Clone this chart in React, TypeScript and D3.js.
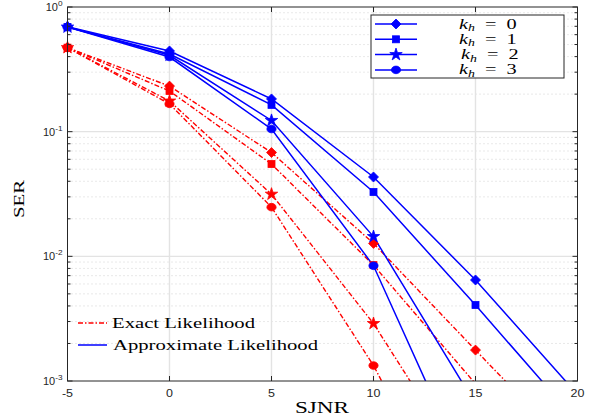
import React from 'react';
import * as d3 from 'd3';

const snr = [-5, 0, 5, 10, 15, 20];
const xTicks = [-5, 0, 5, 10, 15, 20];
const yTickExps = [-3, -2, -1, 0];

// approximate likelihood (blue, solid)
const approxK0 = [0.695, 0.444, 0.183, 0.0433, 0.00646, 0.00078];
const approxK1 = [0.69, 0.42, 0.164, 0.0328, 0.00407, 0.00047];
const approxK2 = [0.69, 0.41, 0.123, 0.0144, 0.00065];
const approxK3 = [0.69, 0.397, 0.105, 0.0084, 0.00013];

// exact likelihood (red, dash-dot)
const exactK0 = [0.472, 0.232, 0.068, 0.0127, 0.00177, 0.00025];
const exactK1 = [0.472, 0.212, 0.055, 0.0085, 0.00095];
const exactK2 = [0.472, 0.176, 0.0315, 0.00289, 0.00015];
const exactK3 = [0.472, 0.167, 0.0248, 0.00133, 0.000038];

const khLabels = ['0', '1', '2', '3'];

const BLUE = '#0000ff';
const RED = '#ff0000';

const W = 595, H = 419;
const left = 67.5, right = 577.5, top = 7, bottom = 381;

const x = d3.scaleLinear().domain([-5, 20]).range([left, right]);
const y = d3.scaleLog().domain([1e-3, 1]).range([bottom, top]);

const line = d3.line<number>()
  .x((d, i) => x(snr[i]))
  .y(d => y(d));

const minors: number[] = [];
for (let e = -3; e < 0; e++) {
  for (let m = 2; m <= 9; m++) minors.push(m * Math.pow(10, e));
}

const starPath = d3.symbol().type(d3.symbolStar).size(48)() as string;

const Marker = ({ cx, cy, k, color }) => {
  const t = `translate(${cx},${cy})`;
  if (k === 0) return <path transform={t} d="M0,-5L5,0L0,5L-5,0Z" fill={color} stroke={color} strokeWidth={0.8} />;
  if (k === 1) return <rect x={cx - 3.5} y={cy - 3.5} width={7} height={7} fill={color} stroke={color} strokeWidth={0.8} />;
  if (k === 2) return <path transform={t} d={starPath} fill={color} stroke={color} strokeWidth={0.8} />;
  return <ellipse cx={cx} cy={cy} rx={4.6} ry={3.8} fill={color} stroke={color} strokeWidth={0.8} />;
};

export default function App() {
  const approx = [approxK0, approxK1, approxK2, approxK3];
  const exact = [exactK0, exactK1, exactK2, exactK3];
  const axisCol = '#262626';
  const tickFont = '"Liberation Sans", Arial, sans-serif';
  const serif = '"Liberation Serif", "Times New Roman", serif';
  const dash = '5,2,1.5,2';

  return (
    <svg width={W} height={H} style={{ position: 'absolute', left: 0, top: 0, background: '#fff' }}>
      <defs>
        <clipPath id="plot">
          <rect x={left} y={top} width={right - left} height={bottom - top} />
        </clipPath>
      </defs>
      <rect x={0} y={0} width={W} height={H} fill="#fff" />

      {/* grid */}
      <g>
        {minors.map((v, i) => (
          <line key={'mg' + i} x1={left} x2={right} y1={y(v)} y2={y(v)}
            stroke="#c8c8c8" strokeWidth={0.8} strokeDasharray="1,3" />
        ))}
        {yTickExps.slice(1, 3).map(e => (
          <line key={'yg' + e} x1={left} x2={right} y1={y(Math.pow(10, e))} y2={y(Math.pow(10, e))}
            stroke="#e3e3e3" strokeWidth={1.2} />
        ))}
        {xTicks.slice(1, -1).map(t => (
          <line key={'xg' + t} x1={x(t)} x2={x(t)} y1={top} y2={bottom}
            stroke="#e3e3e3" strokeWidth={1.4} />
        ))}
      </g>

      {/* curves */}
      <g clipPath="url(#plot)" fill="none">
        {exact.map((s, k) => (
          <path key={'e' + k} d={line(s) as string} stroke={RED} strokeWidth={1.4} strokeDasharray={dash} />
        ))}
        {approx.map((s, k) => (
          <path key={'a' + k} d={line(s) as string} stroke={BLUE} strokeWidth={1.5} />
        ))}
      </g>
      <g>
        {exact.map((s, k) => s.map((v, i) => v >= 1e-3 ? (
          <Marker key={'em' + k + i} cx={x(snr[i])} cy={y(v)} k={k} color={RED} />
        ) : null))}
        {approx.map((s, k) => s.map((v, i) => v >= 1e-3 ? (
          <Marker key={'am' + k + i} cx={x(snr[i])} cy={y(v)} k={k} color={BLUE} />
        ) : null))}
      </g>

      {/* frame and ticks */}
      <rect x={left} y={top} width={right - left} height={bottom - top} fill="none" stroke={axisCol} strokeWidth={1} />
      <g stroke={axisCol} strokeWidth={1}>
        {xTicks.map(t => (
          <g key={'xt' + t}>
            <line x1={x(t)} x2={x(t)} y1={bottom} y2={bottom - 5} />
            <line x1={x(t)} x2={x(t)} y1={top} y2={top + 5} />
          </g>
        ))}
        {yTickExps.map(e => (
          <g key={'yt' + e}>
            <line x1={left} x2={left + 5} y1={y(Math.pow(10, e))} y2={y(Math.pow(10, e))} />
            <line x1={right} x2={right - 5} y1={y(Math.pow(10, e))} y2={y(Math.pow(10, e))} />
          </g>
        ))}
        {minors.map((v, i) => (
          <g key={'mt' + i}>
            <line x1={left} x2={left + 3} y1={y(v)} y2={y(v)} />
            <line x1={right} x2={right - 3} y1={y(v)} y2={y(v)} />
          </g>
        ))}
      </g>

      {/* tick labels */}
      <g fontFamily={tickFont} fontSize={10} fill={axisCol}>
        {xTicks.map(t => (
          <text key={'xl' + t} transform={`translate(${x(t)},${bottom + 16}) scale(1.25,1)`} textAnchor="middle">{t}</text>
        ))}
        {yTickExps.map(e => (
          <text key={'yl' + e} transform={`translate(${left - 5},${y(Math.pow(10, e)) + 4}) scale(1.1,1)`} textAnchor="end">
            10<tspan fontSize={7.5} dy={-5}>{e}</tspan>
          </text>
        ))}
      </g>

      {/* axis labels */}
      <text x={322} y={413} textAnchor="middle" fontFamily={serif} fontSize={16.5} fill="#000"
        textLength={54} lengthAdjust="spacingAndGlyphs">SJNR</text>
      <text transform={`translate(24,199) rotate(-90)`} textAnchor="middle"
        fontFamily={serif} fontSize={14} fill="#000" textLength={38} lengthAdjust="spacingAndGlyphs">SER</text>

      {/* marker legend */}
      <g>
        <rect x={371} y={15} width={193} height={63} fill="#fff" stroke={axisCol} strokeWidth={1} />
        {khLabels.map((lab, k) => {
          const ly = 24 + k * 15.3;
          return (
            <g key={'lg' + k}>
              <line x1={375} x2={417} y1={ly} y2={ly} stroke={BLUE} strokeWidth={1.5} />
              <Marker cx={396} cy={ly} k={k} color={BLUE} />
              <text transform={`translate(${k === 2 ? 461 : 459},${ly + 4.5}) scale(1.45,1)`}
                fontFamily={serif} fontSize={14} fill="#000">
                <tspan fontStyle="italic">k</tspan>
                <tspan fontStyle="italic" fontSize={9.5} dy={2.5}>h</tspan>
                <tspan dy={-2.5}>{'\u2002=\u2002' + lab}</tspan>
              </text>
            </g>
          );
        })}
      </g>

      {/* line style legend */}
      <g fontFamily={serif} fontSize={14} fill="#000">
        <line x1={78} x2={107} y1={323} y2={323} stroke={RED} strokeWidth={1.4} strokeDasharray={dash} />
        <text x={112} y={327.5} textLength={143} lengthAdjust="spacingAndGlyphs">Exact Likelihood</text>
        <line x1={78} x2={107} y1={345} y2={345} stroke={BLUE} strokeWidth={1.5} />
        <text x={113} y={349.5} textLength={205} lengthAdjust="spacingAndGlyphs">Approximate Likelihood</text>
      </g>
    </svg>
  );
}
